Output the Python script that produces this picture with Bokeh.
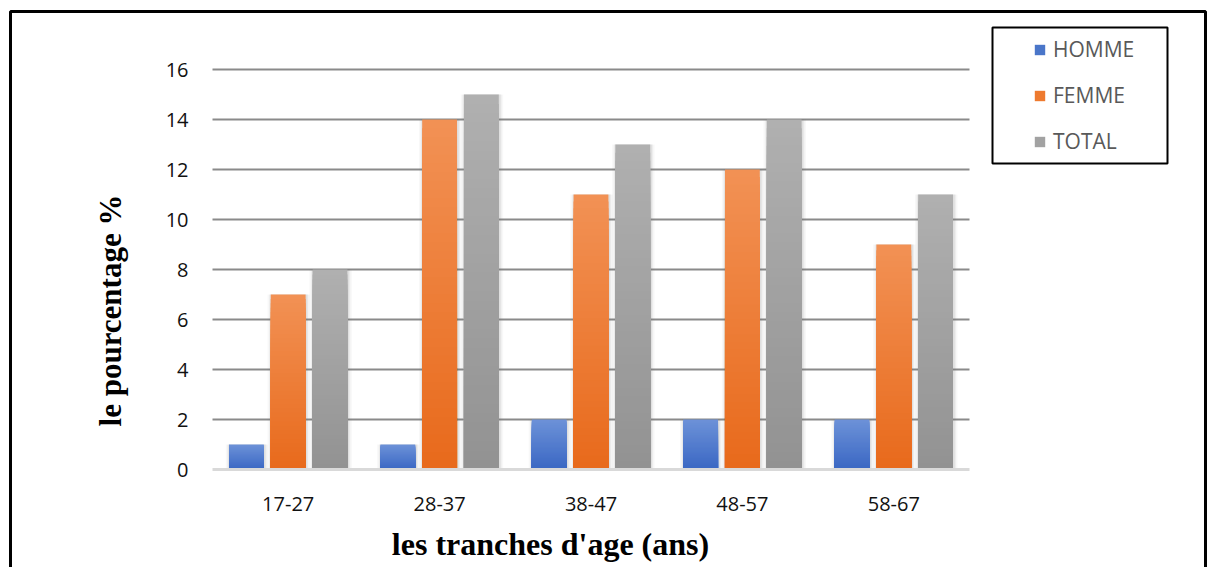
from bokeh.plotting import figure
from bokeh.models import (Range1d, BoxAnnotation, Label, Legend, LegendItem,
                          ColumnDataSource)
from bokeh.core.properties import value
from bokeh.embed import file_html
from bokeh.resources import INLINE

# Age groups and percentages per population
categories = ["17-27", "28-37", "38-47", "48-57", "58-67"]
homme = [1, 1, 2, 2, 2]
femme = [7, 14, 11, 12, 9]
total = [8, 15, 13, 14, 11]
series_names = ["HOMME", "FEMME", "TOTAL"]
y_ticks = [0, 2, 4, 6, 8, 10, 12, 14, 16]

# Vertical gradient endpoints (top, bottom) for each series
gradients = {
    "HOMME": ("#6d92d8", "#3a67c3"),
    "FEMME": ("#f29255", "#e8691b"),
    "TOTAL": ("#b0b0b0", "#929292"),
}
legend_colors = {"HOMME": "#4a76c9", "FEMME": "#ee7a2f", "TOTAL": "#a2a2a2"}

TICK_FONT = "Open Sans"
TITLE_FONT = "Liberation Serif"

W, H = 1208, 567
# Plot area inside the canvas (pixels): 212..969 horizontally, value 0 at 469
PLOT_LEFT, PLOT_RIGHT, PLOT_TOP, PLOT_BOTTOM = 212, 969, 69, 469
Y_MAX = 16
n = len(categories)
unit_px = (PLOT_RIGHT - PLOT_LEFT) / n
y_px = (PLOT_BOTTOM - PLOT_TOP) / Y_MAX

# Ranges chosen so that the whole canvas is the drawing frame
x_range = Range1d(-0.5 - PLOT_LEFT / unit_px, n - 0.5 + (W - PLOT_RIGHT) / unit_px)
y_range = Range1d(-(H - PLOT_BOTTOM) / y_px, PLOT_BOTTOM / y_px)

p = figure(width=W, height=H, x_range=x_range, y_range=y_range,
           output_backend="svg", toolbar_location=None,
           x_axis_location=None, y_axis_location=None, min_border=0)
p.outline_line_color = None
p.background_fill_color = "white"
p.border_fill_color = "white"
p.xgrid.grid_line_color = None
p.ygrid.grid_line_color = None

xi = list(range(n))

# Horizontal gridlines across the category span
grid_vals = [t for t in y_ticks if t > 0]
p.segment(x0=[-0.5] * len(grid_vals), x1=[n - 0.5] * len(grid_vals),
          y0=grid_vals, y1=grid_vals, line_color="#8a8a8a", line_width=2)

# Value-axis tick labels
p.text(x=[-0.5] * len(y_ticks), y=y_ticks, text=[str(t) for t in y_ticks],
       x_offset=-24, text_align="right", text_baseline="middle",
       text_font=value(TICK_FONT), text_font_size="20px", text_color="#111111")

# Category tick labels
p.text(x=xi, y=[0] * n, text=categories, y_offset=34, text_align="center",
       text_baseline="middle", text_font=value(TICK_FONT),
       text_font_size="20px", text_color="#111111")


def mix(c1, c2, t):
    a = [int(c1[i:i + 2], 16) for i in (1, 3, 5)]
    b = [int(c2[i:i + 2], 16) for i in (1, 3, 5)]
    return "#%02x%02x%02x" % tuple(round(a[k] + (b[k] - a[k]) * t) for k in range(3))


BAR_W = 0.23
offsets = {"HOMME": -0.276, "FEMME": 0.0, "TOTAL": 0.276}
values = {"HOMME": homme, "FEMME": femme, "TOTAL": total}
N = 40

items = []
for name in series_names:
    vals = values[name]
    off = offsets[name]
    bx = [i + off for i in xi]
    # soft shadow behind each bar
    shadow = ColumnDataSource(dict(x=[b + 0.004 for b in bx], top=vals))
    for extra, alpha in ((0.05, 0.05), (0.03, 0.08), (0.015, 0.10)):
        p.vbar(x="x", top="top", bottom=0, width=BAR_W + extra, source=shadow,
               fill_color="#707070", fill_alpha=alpha, line_color=None)
    # gradient: nested rectangles from the base, light at the top, dark at the base
    xs, tops, cols = [], [], []
    top_c, bot_c = gradients[name]
    for k in reversed(range(N)):
        for x, v in zip(bx, vals):
            xs.append(x)
            tops.append(v * (k + 1) / N)
            cols.append(mix(bot_c, top_c, (k + 0.5) / N))
    src = ColumnDataSource(dict(x=xs, top=tops, color=cols))
    p.vbar(x="x", top="top", bottom=0, width=BAR_W, source=src,
           fill_color="color", line_color=None)
    # zero-width bars that only carry the legend swatch colour
    key = p.vbar(x=bx, top=vals, bottom=0, width=0,
                 fill_color=legend_colors[name], line_color=None)
    items.append(LegendItem(label=name, renderers=[key]))

# Baseline of the value axis
p.segment(x0=[-0.5], x1=[n - 0.5], y0=[0], y1=[0], line_color="#d9d9d9",
          line_width=3)

legend = Legend(items=items, location=(1033, H - 155), orientation="vertical",
                glyph_width=13, glyph_height=13, label_standoff=7,
                label_height=20, spacing=18, padding=0, margin=0,
                border_line_alpha=0, background_fill_alpha=0,
                label_text_font=TICK_FONT, label_text_font_size="21px",
                label_text_color="#595959")
p.add_layout(legend, "center")

# Frame around the legend and around the whole chart
p.add_layout(BoxAnnotation(left=992, right=1167, top=H - 27, bottom=H - 163,
                           left_units="screen", right_units="screen",
                           top_units="screen", bottom_units="screen",
                           fill_alpha=0, line_color="black", line_alpha=1,
                           line_width=2))
p.add_layout(BoxAnnotation(left=10, right=1205, top=H - 11, bottom=-60,
                           left_units="screen", right_units="screen",
                           top_units="screen", bottom_units="screen",
                           fill_alpha=0, line_color="black", line_alpha=1,
                           line_width=3))

# Axis titles
p.add_layout(Label(x=550, y=H - 543, x_units="screen", y_units="screen",
                   text="les tranches d'age (ans)", text_align="center",
                   text_baseline="middle", text_font=TITLE_FONT,
                   text_font_style="bold", text_font_size="32px",
                   text_color="black"))
p.add_layout(Label(x=110, y=H - 310, x_units="screen", y_units="screen",
                   text="le pourcentage %", angle=1.5708, text_align="center",
                   text_baseline="middle", text_font=TITLE_FONT,
                   text_font_style="bold", text_font_size="31px",
                   text_color="black"))

open("out.html", "w").write(file_html(p, INLINE))
